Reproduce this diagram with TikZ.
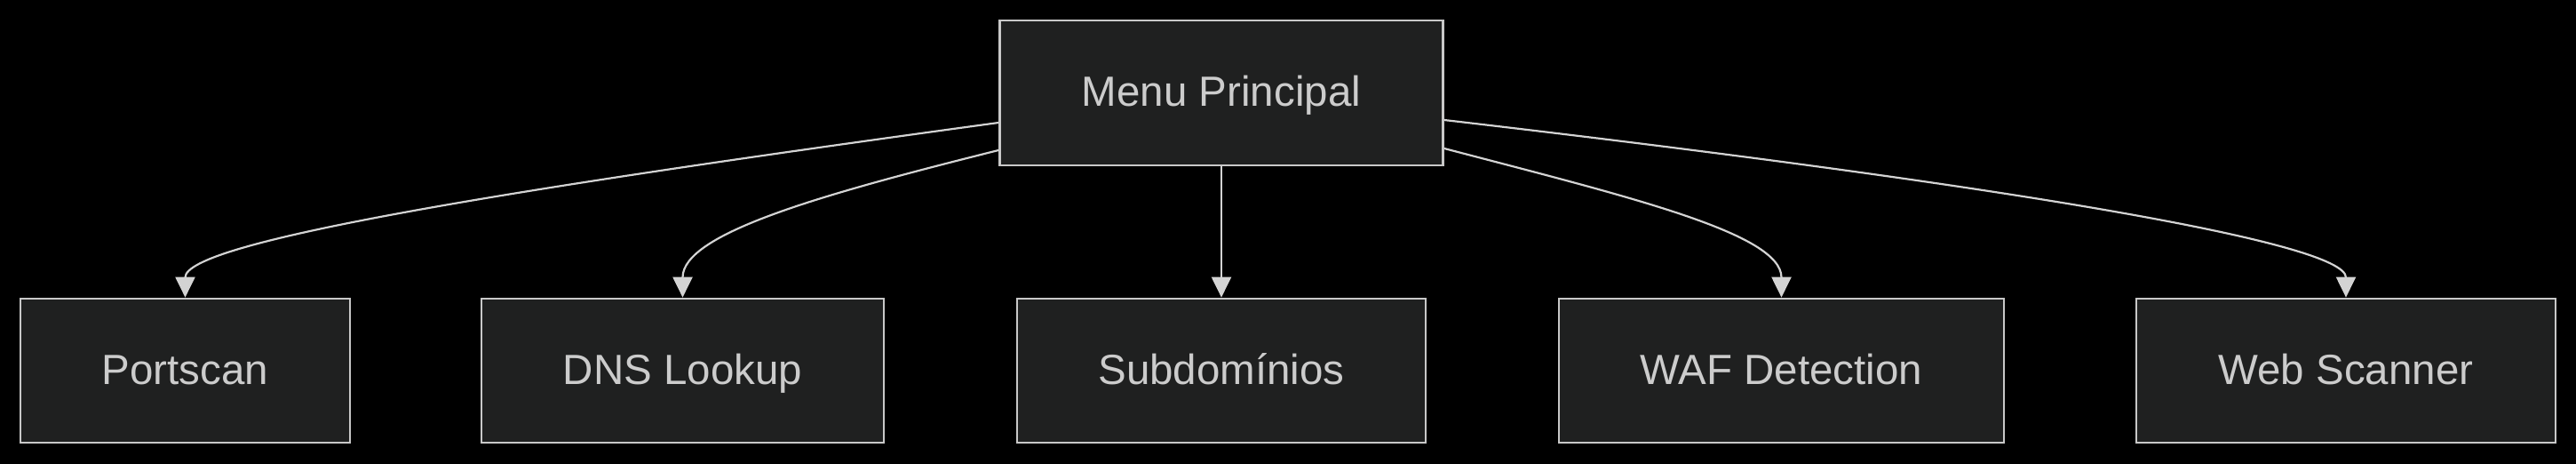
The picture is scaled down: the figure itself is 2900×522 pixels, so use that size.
\documentclass[tikz,border=0pt]{standalone}
\usepackage{fontspec}
\setmainfont{Liberation Sans}
\usetikzlibrary{arrows.meta}
\definecolor{bgc}{HTML}{000000}
\definecolor{boxfill}{HTML}{1F2020}
\definecolor{boxline}{HTML}{C8C8C8}
\definecolor{txt}{HTML}{CCCCCC}
\definecolor{edge}{HTML}{D3D3D3}
\tikzset{
  box/.style={draw=boxline, fill=boxfill, line width=2.7pt, text=txt,
    minimum height=162pt, inner sep=0pt, text height=43pt, text depth=13pt,
    font=\fontsize{47.5}{56}\selectfont},
  link/.style={draw=edge, line width=2.2pt,
    -{Triangle[length=23pt,width=22pt]}}
}
\begin{document}
\begin{tikzpicture}[x=1pt,y=-1pt]
\fill[bgc] (0,0) rectangle (2900,522);
\useasboundingbox (0,0) rectangle (2900,522);
\node[box, minimum width=499pt, minimum height=163pt] (m) at (1375,104.5) {Menu Principal};
\node[box, minimum width=371pt] (p) at (208.5,417) {Portscan};
\node[box, minimum width=453pt] (d) at (768.5,417) {DNS Lookup};
\node[box, minimum width=460pt] (s) at (1375,417) {Subdomínios};
\node[box, minimum width=501pt] (w) at (2005.5,417) {WAF Detection};
\node[box, minimum width=472pt] (ws) at (2641,417) {Web Scanner};
\draw[link] ([yshift=-33.5pt]m.west) .. controls +(-566,77) and +(0,-62) .. (p.north);
\draw[link] ([yshift=-64.5pt]m.west) .. controls +(-200,50) and +(0,-72) .. (d.north);
\draw[link] (m.south) -- (s.north);
\draw[link] ([yshift=-62.5pt]m.east) .. controls +(210,55) and +(0,-72) .. (w.north);
\draw[link] ([yshift=-30.5pt]m.east) .. controls +(630,73) and +(0,-62) .. (ws.north);
\end{tikzpicture}
\end{document}
